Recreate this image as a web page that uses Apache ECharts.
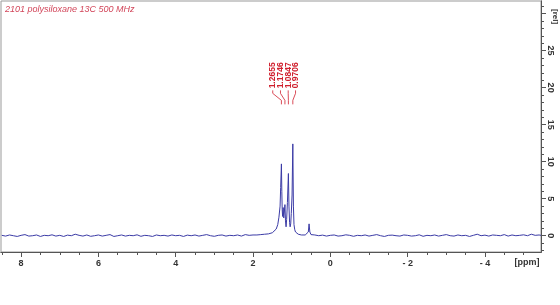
<!DOCTYPE html>
<html>
<head>
<meta charset="utf-8">
<script src="https://cdn.jsdelivr.net/npm/echarts@6/dist/echarts.min.js"></script>
<style>
  html, body {margin: 0; padding: 0; background: #fff;}
  #main {width: 560px; height: 305px;}
</style>
</head>
<body>
<div id="main"></div>
<script>
// 13C 谱图 - 基线和峰
var ppmLeft = [8.5, 8.4, 8.3, 8.2, 8.1, 8.0, 7.9, 7.8, 7.7, 7.6, 7.5, 7.4, 7.3, 7.2, 7.1, 7.0, 6.9, 6.8, 6.7, 6.6,
    6.5, 6.4, 6.3, 6.2, 6.1, 6.0, 5.9, 5.8, 5.7, 5.6, 5.5, 5.4, 5.3, 5.2, 5.1, 5.0, 4.9, 4.8, 4.7, 4.6,
    4.5, 4.4, 4.3, 4.2, 4.1, 4.0, 3.9, 3.8, 3.7, 3.6, 3.5, 3.4, 3.3, 3.2, 3.1, 3.0, 2.9, 2.8, 2.7, 2.6,
    2.5, 2.4, 2.3, 2.2, 2.1, 2.0, 1.9, 1.8, 1.7, 1.6];
var intLeft = [0.05, -0.05, 0.1, 0.0, -0.1, 0.05, 0.15, -0.05, 0.0, 0.1,
    -0.1, 0.05, 0.0, 0.12, -0.05, 0.05, -0.1, 0.08, 0.0, 0.2,
    0.05, -0.05, 0.1, -0.08, 0.0, 0.1, -0.05, 0.05, 0.15, -0.1,
    0.0, 0.1, -0.05, 0.05, 0.0, 0.12, -0.08, 0.05, 0.0, -0.1,
    0.1, 0.0, 0.05, -0.05, 0.1, 0.0, 0.05, -0.1, 0.08, 0.0,
    0.1, -0.05, 0.05, 0.15, 0.0, -0.08, 0.05, 0.1, -0.05, 0.05,
    0.0, 0.1, -0.05, 0.15, 0.05, 0.1, 0.1, 0.15, 0.2, 0.25];

var ppmMid = [1.55, 1.50, 1.45, 1.40, 1.36, 1.33, 1.30, 1.285, 1.2655, 1.255, 1.245, 1.235, 1.22, 1.205, 1.19,
    1.1746, 1.16, 1.145, 1.13, 1.11, 1.0847, 1.07, 1.055, 1.04, 1.025, 1.01, 0.99, 0.9706, 0.955, 0.94,
    0.92, 0.90, 0.87, 0.83, 0.80, 0.75, 0.70, 0.65, 0.60, 0.57, 0.55, 0.53, 0.50, 0.45];
var intMid = [0.3, 0.4, 0.6, 0.9, 1.5, 2.5, 4.0, 6.5, 9.7, 6.0, 3.5, 2.6, 3.8, 2.4, 3.2,
    4.2, 2.0, 1.2, 2.2, 4.5, 8.4, 4.0, 1.8, 1.2, 1.6, 3.0, 5.5, 12.4, 4.0, 1.5,
    0.8, 0.5, 0.3, 0.2, 0.15, 0.1, 0.15, 0.1, 0.2, 0.5, 1.6, 0.5, 0.15, 0.05];

var ppmRight = [0.4, 0.3, 0.2, 0.1, 0.0, -0.1, -0.2, -0.3, -0.4, -0.5, -0.6, -0.7, -0.8, -0.9, -1.0,
    -1.1, -1.2, -1.3, -1.4, -1.5, -1.6, -1.7, -1.8, -1.9, -2.0, -2.1, -2.2, -2.3, -2.4, -2.5,
    -2.6, -2.7, -2.8, -2.9, -3.0, -3.1, -3.2, -3.3, -3.4, -3.5, -3.6, -3.7, -3.8, -3.9, -4.0,
    -4.1, -4.2, -4.3, -4.4, -4.5, -4.6, -4.7, -4.8, -4.9, -5.0, -5.1, -5.2, -5.3, -5.4, -5.45];
var intRight = [0.1, 0.0, 0.08, -0.05, 0.05, 0.1, -0.05, 0.0, 0.12, 0.05,
    -0.08, 0.05, 0.0, 0.1, -0.05, 0.05, 0.15, 0.0, -0.1, 0.05,
    0.08, 0.0, -0.05, 0.1, 0.05, -0.05, 0.0, 0.12, -0.08, 0.05,
    0.0, 0.1, -0.05, 0.05, 0.15, 0.0, -0.05, 0.1, 0.0, 0.05,
    -0.1, 0.05, 0.2, 0.0, 0.08, -0.05, 0.1, 0.05, 0.0, 0.15,
    -0.05, 0.1, 0.0, 0.05, 0.12, 0.0, 0.2, 0.05, 0.1, 0.05];

// 峰标注
var peakPpm = [1.2655, 1.1746, 1.0847, 0.9706];
var peakText = ['1.2655', '1.1746', '1.0847', '0.9706'];
var labelPpm = [1.49, 1.29, 1.09, 0.90];

// 刻度
var xMinorTicks = [8.5, 8, 7.5, 7, 6.5, 6, 5.5, 5, 4.5, 4, 3.5, 3, 2.5, 2, 1.5, 1, 0.5, 0, -0.5, -1, -1.5, -2, -2.5, -3, -3.5, -4, -4.5, -5];
var xMajorTicks = [8, 6, 4, 2, 0, -2, -4];
var yMinorTicks = [-2, -1, 0, 1, 2, 3, 4, 5, 6, 7, 8, 9, 10, 11, 12, 13, 14, 15, 16, 17, 18, 19, 20, 21, 22, 23, 24, 25, 26, 27, 28, 29, 30, 31];
var yMajorTicks = [0, 5, 10, 15, 20, 25, 30];
var yLabels = [0, 5, 10, 15, 20, 25];

var spectrum = [];
var allPpm = ppmLeft.concat(ppmMid, ppmRight);
var allInt = intLeft.concat(intMid, intRight);
for (var i = 0; i < allPpm.length; i++) {
    spectrum.push([allPpm[i], allInt[i]]);
}

var X_MIN = -5.45, X_MAX = 8.52, Y_MIN = -2.2, Y_MAX = 31.7;
var tickColor = '#555';
var labelStyle = {color: '#333', fontSize: 9, fontWeight: 'bold', fontFamily: 'Liberation Sans'};

function xAx(ticks, len, labels) {
    return {
        type: 'value', inverse: true, min: X_MIN, max: X_MAX, position: 'bottom',
        axisLine: {show: true, onZero: false, lineStyle: {color: tickColor}},
        axisTick: {show: true, length: len, customValues: ticks, lineStyle: {color: tickColor}},
        axisLabel: labels ? Object.assign({
            show: true, margin: 7, customValues: labels,
            formatter: function (v) { return v < 0 ? '- ' + (-v) : '' + v; }
        }, labelStyle) : {show: false},
        splitLine: {show: false}
    };
}
function yAx(ticks, len, labels) {
    return {
        type: 'value', min: Y_MIN, max: Y_MAX, position: 'right',
        axisLine: {show: true, onZero: false, lineStyle: {color: tickColor}},
        axisTick: {show: true, length: len, customValues: ticks, lineStyle: {color: tickColor}},
        axisLabel: labels ? Object.assign({
            show: true, margin: 5, rotate: -90, customValues: labels
        }, labelStyle) : {show: false},
        splitLine: {show: false}
    };
}

var option = {
    animation: false,
    backgroundColor: '#fff',
    grid: {left: 1, right: 19, top: 1, bottom: 53, show: true, borderColor: '#999', borderWidth: 1, outerBoundsMode: 'none'},
    xAxis: [xAx(xMinorTicks, 3, null), xAx(xMajorTicks, 5, xMajorTicks)],
    yAxis: [yAx(yMinorTicks, 3, null), yAx(yMajorTicks, 5, yLabels)],
    graphic: [
        {type: 'text', left: 5, top: 5, style: {text: '2101 polysiloxane 13C 500 MHz', fill: '#d2465a', font: 'italic 9px Liberation Sans'}},
        {type: 'text', x: 555, y: 9, rotation: -Math.PI / 2, style: {text: '[rel]', fill: '#333', font: 'bold 8px Liberation Sans', align: 'left', verticalAlign: 'middle'}},
        {type: 'text', x: 527, y: 263, style: {text: '[ppm]', fill: '#333', font: 'bold 9px Liberation Sans', align: 'center', verticalAlign: 'middle'}}
    ],
    series: [
        {
            type: 'line', xAxisIndex: 0, yAxisIndex: 0, data: spectrum,
            showSymbol: false, smooth: false,
            lineStyle: {color: '#3b3ba6', width: 1}
        },
        {
            type: 'custom', xAxisIndex: 0, yAxisIndex: 0, clip: false,
            data: peakPpm.map(function (p, i) { return [p, labelPpm[i]]; }),
            renderItem: function (params, api) {
                var px = api.coord([api.value(0), 0])[0];
                var lx = api.coord([api.value(1), 0])[0];
                var yb = api.coord([0, 19.9])[1];
                return {
                    type: 'group',
                    children: [
                        {
                            type: 'text', x: lx, y: yb, rotation: Math.PI / 2,
                            style: {text: peakText[params.dataIndex], fill: '#d0202e', font: 'bold 8.5px Liberation Sans', align: 'left', verticalAlign: 'middle'}
                        },
                        {
                            type: 'polyline',
                            shape: {points: [[lx, yb + 2], [lx, yb + 5], [px, yb + 12], [px, yb + 16]]},
                            style: {stroke: '#d0202e', lineWidth: 0.8, fill: null}
                        }
                    ]
                };
            }
        }
    ]
};

var myChart = echarts.init(document.getElementById('main'));
myChart.setOption(option);
</script>
</body>
</html>
